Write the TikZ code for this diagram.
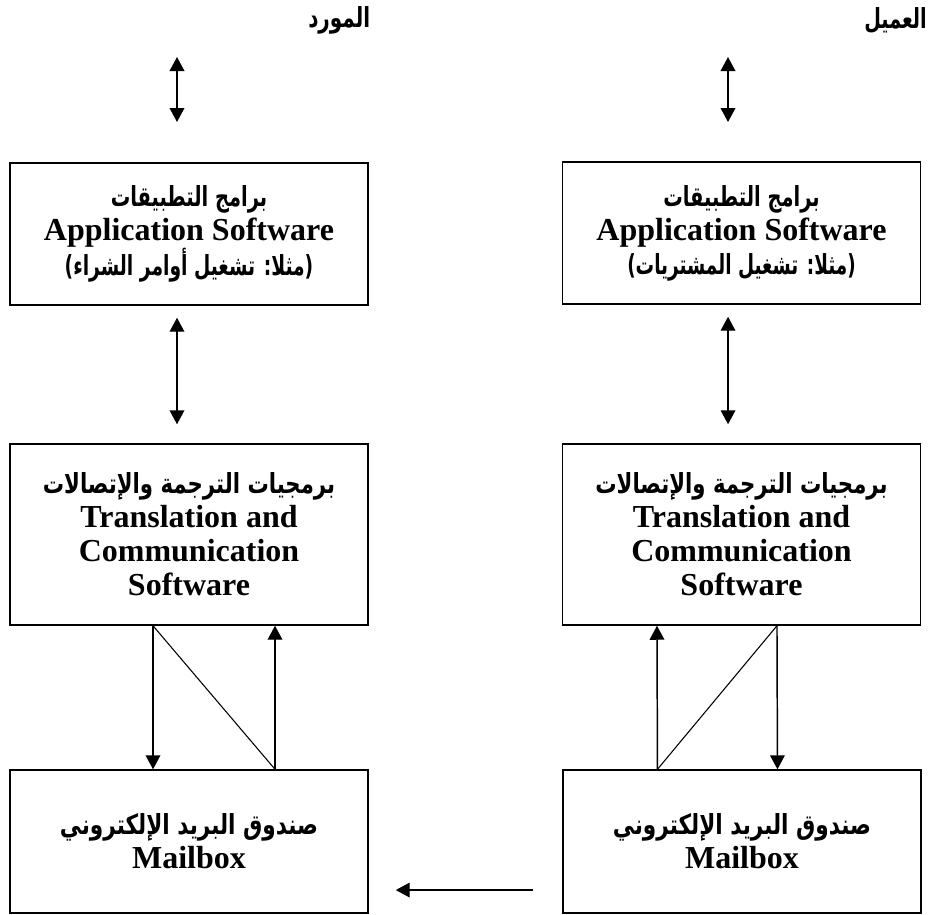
\documentclass[tikz,border=0pt]{standalone}
\usepackage{fontspec}
\usepackage{graphicx}
\setmainfont{Liberation Serif}
\newfontfamily\arabicfont[Script=Arabic]{DejaVu Sans}
\TeXXeTstate=1
\usetikzlibrary{arrows.meta}
\newcommand{\artext}[2]{\scalebox{#1}[1.15]{\arabicfont\bfseries\fontsize{18}{25.5}\selectfont #2}}
\begin{document}
\begin{tikzpicture}[x=0.75pt,y=-0.75pt,
  box/.style={draw,line width=1.1pt,align=center,minimum width=268.5pt,inner sep=0pt,
    font=\bfseries\fontsize{24}{25.5}\selectfont},
  arr/.style={line width=1.1pt,-{Triangle[width=11pt,length=10.5pt]}},
  darr/.style={line width=1.1pt,{Triangle[width=11pt,length=10.5pt]}-{Triangle[width=11pt,length=10.5pt]}},
  diag/.style={line width=0.8pt},
  lbl/.style={inner sep=0pt}]
\useasboundingbox (0,0) rectangle (930,914);

\node[lbl,anchor=east] (lblR) at (927,21) {\artext{0.8}{\beginR العميل\endR}};
\node[lbl,anchor=west] (lblL) at (308,20) {\artext{0.83}{\beginR المورد\endR}};

\node[box,minimum height=106.5pt] (tl) at (189,234)
  {\artext{0.81}{\beginR برامج التطبيقات\endR}\\Application Software\\\artext{0.78}{\beginR (مثلا: تشغيل أوامر الشراء)\endR}};
\node[box,minimum height=106.5pt] (tr) at (741.5,233)
  {\artext{0.81}{\beginR برامج التطبيقات\endR}\\Application Software\\\artext{0.77}{\beginR (مثلا: تشغيل المشتريات)\endR}};

\node[box,minimum height=135.75pt] (ml) at (189,534.5)
  {\artext{0.885}{\beginR برمجيات الترجمة والإتصالات\endR}\\Translation and\\Communication\\Software};
\node[box,minimum height=135.75pt] (mr) at (741.5,534.5)
  {\artext{0.885}{\beginR برمجيات الترجمة والإتصالات\endR}\\Translation and\\Communication\\Software};

\node[box,minimum height=107.25pt] (bl) at (189,841.5)
  {\artext{0.9}{\beginR صندوق البريد الإلكتروني\endR}\\Mailbox};
\node[box,minimum height=107.25pt] (br) at (742,841.5)
  {\artext{0.9}{\beginR صندوق البريد الإلكتروني\endR}\\Mailbox};

% top free arrows
\coordinate (tla) at (177,57);
\coordinate (tlb) at (177,122);
\coordinate (tra) at (728,57);
\coordinate (trb) at (728,122);
\draw[darr] (tla) -- (tlb);
\draw[darr] (tra) -- (trb);

% top box to middle box
\draw[darr] ([xshift=-9pt,yshift=-9pt]tl.south) -- ([xshift=-9pt,yshift=14.25pt]ml.north);
\draw[darr] ([xshift=-10.1pt,yshift=-9pt]tr.south) -- ([xshift=-10.1pt,yshift=14.25pt]mr.north);

% left middle to mailbox
\draw[arr] ([xshift=-27pt]ml.south) -- ([xshift=-27pt]bl.north);
\draw[arr] ([xshift=64.5pt]bl.north) -- ([xshift=64.5pt]ml.south);
\draw[diag] ([xshift=-27pt]ml.south) -- ([xshift=64.5pt]bl.north);

% right middle to mailbox
\draw[arr] ([xshift=-63.4pt]br.north) -- ([xshift=-63.4pt]mr.south);
\draw[arr] ([xshift=26.6pt]mr.south) -- ([xshift=26.6pt]br.north);
\draw[diag] ([xshift=-63.4pt]br.north) -- ([xshift=26.6pt]mr.south);

% mailbox to mailbox
\draw[arr] ([xshift=-21.75pt,yshift=-36.4pt]br.west) -- ([xshift=20.25pt,yshift=-36.4pt]bl.east);
\end{tikzpicture}
\end{document}
